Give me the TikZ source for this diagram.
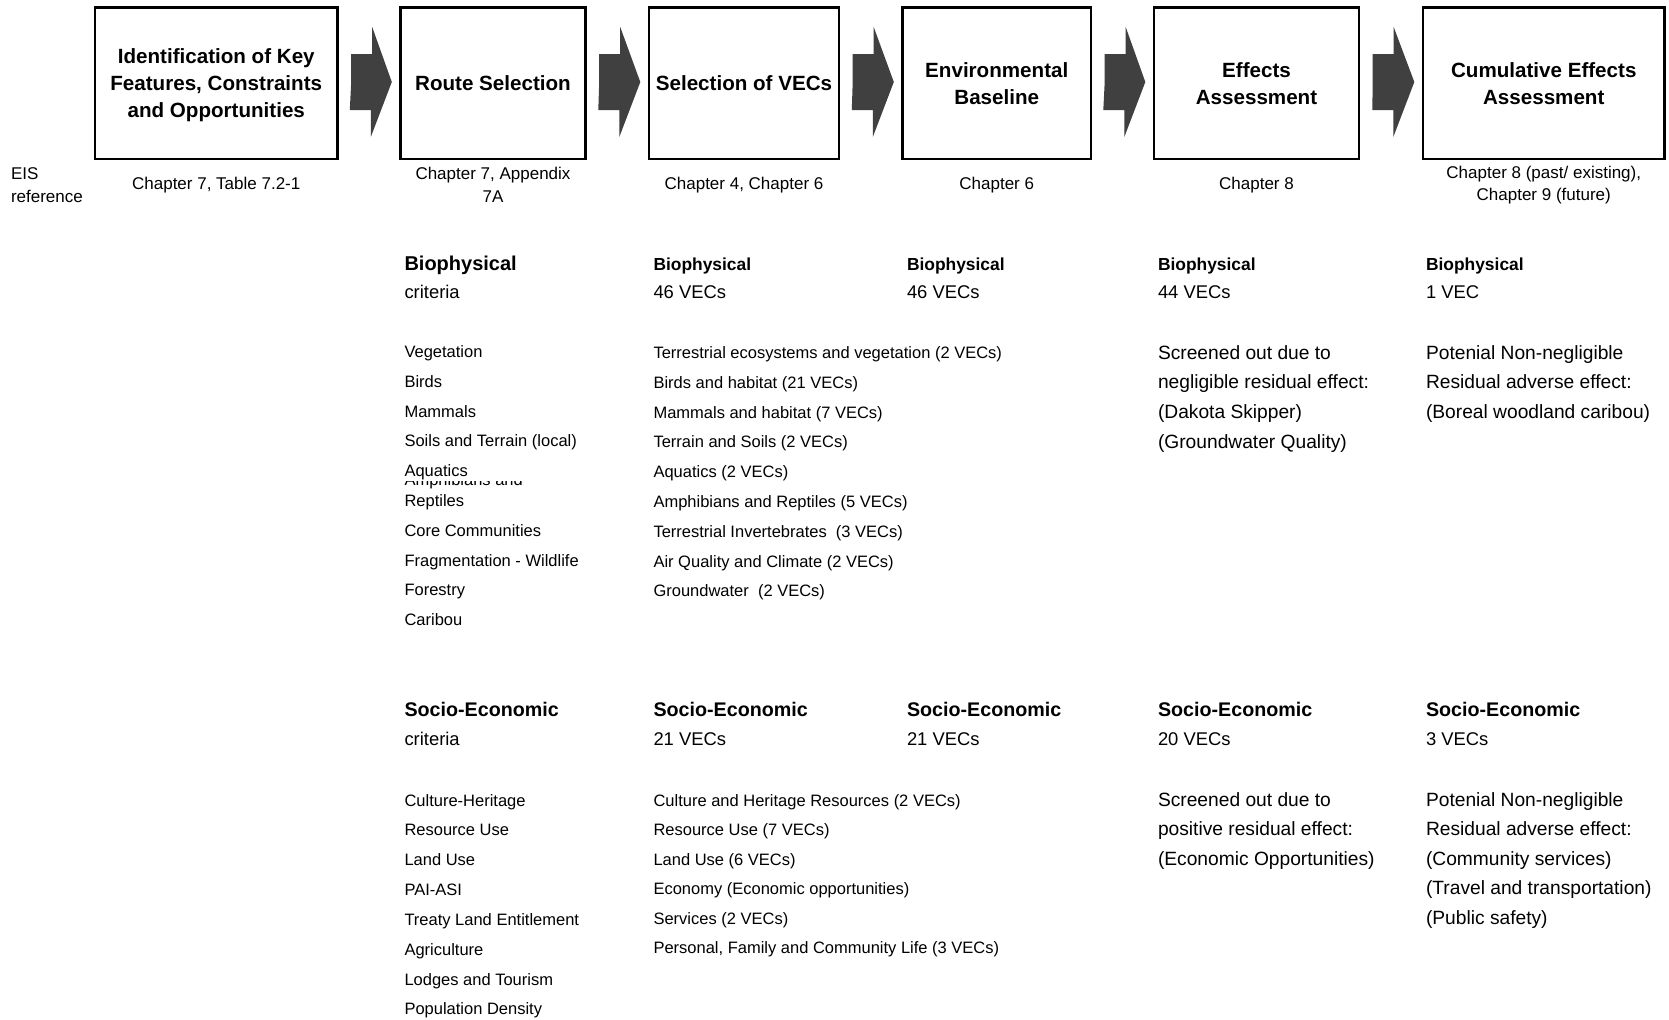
\documentclass[tikz,border=0pt]{standalone}
\usepackage{fontspec}
\setmainfont{Liberation Sans}
\usetikzlibrary{calc}

\definecolor{arrowgray}{HTML}{404040}

\tikzset{
  stepbox/.style={draw=black, line width=1.2pt, fill=white, align=center,
    inner sep=0pt, text depth=0pt, font=\fontsize{10.3}{13.5}\selectfont\bfseries},
  blockarrow/.style={fill=arrowgray},
  txt/.style={anchor=base west, inner sep=0pt, outer sep=0pt},
  chap/.style={anchor=center, inner sep=0pt, align=center,
    font=\fontsize{8.5}{11.25}\selectfont},
  item/.style={txt, font=\fontsize{8.25}{10}\selectfont},
  headbig/.style={txt, font=\fontsize{10}{12}\selectfont\bfseries},
  head/.style={txt, font=\fontsize{8.7}{10}\selectfont\bfseries},
  socio/.style={txt, font=\fontsize{9.85}{12}\selectfont\bfseries},
  tally/.style={txt, font=\fontsize{9.2}{11}\selectfont},
  body/.style={txt, font=\fontsize{9.6}{11}\selectfont},
}

\begin{document}
\begin{tikzpicture}[x=0.5pt, y=-0.5pt]
  \useasboundingbox (0,0) rectangle (1669,1019);
  \fill[white] (0,0) rectangle (1669,1019);

  % process steps
  \node[stepbox, minimum width=121.25pt, minimum height=75.75pt] (b1) at (216.25,83.25)
    {Identification of Key\\Features, Constraints\\and Opportunities};
  \node[stepbox, minimum width=92.5pt, minimum height=75.75pt] (b2) at (493,83.25)
    {Route Selection};
  \node[stepbox, minimum width=95pt, minimum height=75.75pt] (b3) at (744,83.25)
    {Selection of VECs};
  \node[stepbox, minimum width=94.25pt, minimum height=75.75pt] (b4) at (996.75,83.25)
    {Environmental\\Baseline};
  \node[stepbox, minimum width=102.5pt, minimum height=75.75pt] (b5) at (1256.5,83.25)
    {Effects\\Assessment};
  \node[stepbox, minimum width=120.75pt, minimum height=75.75pt] (b6) at (1543.75,83.25)
    {Cumulative Effects\\Assessment};

  % block arrows between consecutive steps
  \foreach \a/\b in {b1/b2, b2/b3, b3/b4, b4/b5, b5/b6}
    \fill[blockarrow] ($(\a.east)+(12.5,-1.25)$) -- ++(0,-28) -- ++(21,0) -- ++(0,-27)
      -- ($(\b.west)+(-7.5,-1.25)$) -- ++(-21,55) -- ++(0,-27) -- ++(-21,0) -- cycle;

  % EIS references
  \node[anchor=west, inner sep=0pt, align=left, font=\fontsize{8.5}{11.25}\selectfont]
    (eis) at (10.6,185) {EIS\\reference};
  \node[chap] (r1) at (216.25,185.5) {Chapter 7, Table 7.2-1};
  \node[chap] (r2) at (493,185) {Chapter 7, Appendix\\7A};
  \node[chap] (r3) at (744,185.5) {Chapter 4, Chapter 6};
  \node[chap] (r4) at (996.75,185.5) {Chapter 6};
  \node[chap] (r5) at (1256.5,185.5) {Chapter 8};
  \node[chap] (r6) at (1543.75,185) {Chapter 8 (past/ existing),\\Chapter 9 (future)};

  % ---- Route selection column ----
  \node[headbig] (c2h) at (404.5,270) {Biophysical};
  \node[tally] (c2t) at (404.5,298.5) {criteria};
  \foreach \t [count=\i from 0] in {Vegetation, Birds, Mammals, Soils and Terrain (local),
      Aquatics, Reptiles, Core Communities, Fragmentation - Wildlife, Forestry, Caribou}
    \node[item] (c2b\i) at (404.5,{357.5+29.8*\i}) {\t};
  % first line of the wrapped "Amphibians and Reptiles", mostly hidden
  \begin{scope}
    \clip (400,481.2) rectangle (600,492);
    \node[item] (c2amph) at (404.5,485) {Amphibians and};
  \end{scope}
  \node[socio] (c2sh) at (404.5,716) {Socio-Economic};
  \node[tally] (c2st) at (404.5,745.5) {criteria};
  \foreach \t [count=\i from 0] in {Culture-Heritage, Resource Use, Land Use, PAI-ASI,
      Treaty Land Entitlement, Agriculture, Lodges and Tourism, Population Density}
    \node[item] (c2s\i) at (404.5,{806+29.85*\i}) {\t};

  % ---- Selection of VECs column ----
  \node[head] (c3h) at (653.5,270) {Biophysical};
  \node[tally] (c3t) at (653.5,298.5) {46 VECs};
  \foreach \t [count=\i from 0] in {Terrestrial ecosystems and vegetation (2 VECs),
      Birds and habitat (21 VECs), Mammals and habitat (7 VECs), Terrain and Soils (2 VECs),
      Aquatics (2 VECs), Amphibians and Reptiles (5 VECs),
      Terrestrial Invertebrates\ \ (3 VECs), Air Quality and Climate (2 VECs),
      Groundwater\ \ (2 VECs)}
    \node[item] (c3b\i) at (653.5,{358.5+29.8*\i}) {\t};
  \node[socio] (c3sh) at (653.5,716) {Socio-Economic};
  \node[tally] (c3st) at (653.5,745.5) {21 VECs};
  \foreach \t [count=\i from 0] in {Culture and Heritage Resources (2 VECs),
      Resource Use (7 VECs), Land Use (6 VECs), Economy (Economic opportunities),
      Services (2 VECs), {Personal, Family and Community Life (3 VECs)}}
    \node[item] (c3s\i) at (653.5,{806+29.5*\i}) {\t};

  % ---- Environmental baseline column ----
  \node[head] (c4h) at (907,270) {Biophysical};
  \node[tally] (c4t) at (907,298.5) {46 VECs};
  \node[socio] (c4sh) at (907,716) {Socio-Economic};
  \node[tally] (c4st) at (907,745.5) {21 VECs};

  % ---- Effects assessment column ----
  \node[head] (c5h) at (1158,270) {Biophysical};
  \node[tally] (c5t) at (1158,298.5) {44 VECs};
  \foreach \t [count=\i from 0] in {Screened out due to, negligible residual effect:,
      (Dakota Skipper), (Groundwater Quality)}
    \node[body] (c5b\i) at (1158,{359+29.8*\i}) {\t};
  \node[socio] (c5sh) at (1158,716) {Socio-Economic};
  \node[tally] (c5st) at (1158,745.5) {20 VECs};
  \foreach \t [count=\i from 0] in {Screened out due to, positive residual effect:,
      (Economic Opportunities)}
    \node[body] (c5s\i) at (1158,{806+29.6*\i}) {\t};

  % ---- Cumulative effects column ----
  \node[head] (c6h) at (1426,270) {Biophysical};
  \node[tally] (c6t) at (1426,298.5) {1 VEC};
  \foreach \t [count=\i from 0] in {Potenial Non-negligible, Residual adverse effect:,
      (Boreal woodland caribou)}
    \node[body] (c6b\i) at (1426,{359+29.8*\i}) {\t};
  \node[socio] (c6sh) at (1426,716) {Socio-Economic};
  \node[tally] (c6st) at (1426,745.5) {3 VECs};
  \foreach \t [count=\i from 0] in {Potenial Non-negligible, Residual adverse effect:,
      (Community services), (Travel and transportation), (Public safety)}
    \node[body] (c6s\i) at (1426,{806+29.6*\i}) {\t};
\end{tikzpicture}
\end{document}
